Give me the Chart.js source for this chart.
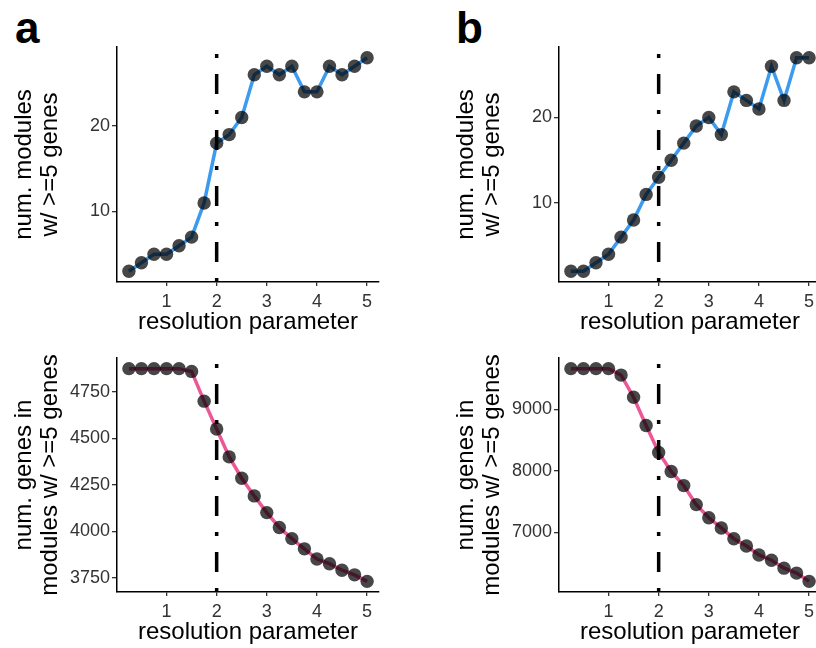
<!DOCTYPE html>
<html>
<head>
<meta charset="utf-8">
<script src="https://cdn.jsdelivr.net/npm/chart.js@4.4.1/dist/chart.umd.min.js"></script>
<style>
  html, body { margin: 0; padding: 0; background: #fff; }
  body { width: 816px; height: 648px; overflow: hidden; position: relative; }
  canvas { position: absolute; }
  .tag { position: absolute; font: bold 44px 'Liberation Sans', Arial, sans-serif; line-height: 44px; color: #000; }
</style>
</head>
<body>
<div class="tag" style="left:15px; top:6px;">a</div>
<div class="tag" style="left:456px; top:6px;">b</div>
<canvas id="aTop" width="400" height="338" style="left:0; top:0;"></canvas>
<canvas id="aBot" width="400" height="328" style="left:0; top:320px;"></canvas>
<canvas id="bTop" width="400" height="338" style="left:442px; top:0;"></canvas>
<canvas id="bBot" width="400" height="328" style="left:442px; top:320px;"></canvas>
<script>
// resolution parameter values (x)
var resolution = [0.25, 0.5, 0.75, 1, 1.25, 1.5, 1.75, 2, 2.25, 2.5, 2.75, 3, 3.25, 3.5, 3.75, 4, 4.25, 4.5, 4.75, 5];

// num. modules w/ >=5 genes
var modulesA = [3, 4, 5, 5, 6, 7, 11, 18, 19, 21, 26, 27, 26, 27, 24, 24, 27, 26, 27, 28];
var modulesB = [2, 2, 3, 4, 6, 8, 11, 13, 15, 17, 19, 20, 18, 23, 22, 21, 26, 22, 27, 27];

// num. genes in modules w/ >=5 genes
var genesA = [4875, 4875, 4875, 4875, 4875, 4860, 4700, 4550, 4400, 4285, 4190, 4100, 4020, 3960, 3905, 3850, 3825, 3790, 3765, 3730];
var genesB = [9665, 9665, 9665, 9665, 9560, 9200, 8740, 8300, 7990, 7760, 7450, 7235, 7070, 6895, 6775, 6630, 6545, 6415, 6335, 6200];

// tick labels
var xTicks = [1, 2, 3, 4, 5];
var modTicks = [10, 20];
var genesTicksA = [3750, 4000, 4250, 4500, 4750];
var genesTicksB = [7000, 8000, 9000];

var cutoff = 2;   // chosen resolution (dot-dash line)

var blue = '#3d9bef';
var pink = '#ec5896';

Chart.defaults.font.family = "'Liberation Sans', Arial, sans-serif";

// dot-dash vertical line at the chosen resolution
var vline = {
  id: 'vline',
  afterDatasetsDraw: function(chart) {
    var ctx = chart.ctx, area = chart.chartArea;
    var x = chart.scales.x.getPixelForValue(cutoff);
    ctx.save();
    ctx.strokeStyle = '#000';
    ctx.lineWidth = 3.5;
    ctx.setLineDash([4, 16, 20, 16]);
    ctx.beginPath();
    ctx.moveTo(x, area.bottom);
    ctx.lineTo(x, area.top);
    ctx.stroke();
    ctx.restore();
  }
};

function makePanel(id, ys, yTicks, color, title, padTop) {
  var lo = Math.min.apply(null, ys), hi = Math.max.apply(null, ys);
  var ypad = (hi - lo) * 0.05;
  var xlo = resolution[0], xhi = resolution[resolution.length - 1];
  var xpad = (xhi - xlo) * 0.05;

  return new Chart(document.getElementById(id), {
    type: 'scatter',
    data: {
      datasets: [{
        data: resolution.map(function(x, i) { return {x: x, y: ys[i]}; }),
        showLine: true,
        borderColor: color,
        borderWidth: 3.5,
        pointRadius: 6.7,
        pointBackgroundColor: 'rgba(0,0,0,0.72)',
        pointBorderWidth: 0,
        clip: false
      }]
    },
    options: {
      animation: false,
      responsive: false,
      devicePixelRatio: 1,
      layout: { padding: { top: padTop, right: 21, left: 0, bottom: 0 }, autoPadding: false },
      plugins: { legend: { display: false }, tooltip: { enabled: false } },
      scales: {
        x: {
          type: 'linear',
          min: xlo - xpad,
          max: xhi + xpad,
          afterBuildTicks: function(s) { s.ticks = xTicks.map(function(v) { return {value: v}; }); },
          afterFit: function(s) { s.height = 56; },
          grid: { drawOnChartArea: false, tickLength: 4, color: '#333', lineWidth: 1.3 },
          border: { color: '#000', width: 1.5 },
          ticks: { padding: 5, color: '#333', font: { size: 18 }, callback: function(v) { return String(v); } },
          title: { display: true, text: 'resolution parameter', color: '#000', font: { size: 24 }, padding: { top: 0, bottom: 1 } }
        },
        y: {
          min: lo - ypad,
          max: hi + ypad,
          afterBuildTicks: function(s) { s.ticks = yTicks.map(function(v) { return {value: v}; }); },
          afterFit: function(s) { s.width = 117; },
          grid: { drawOnChartArea: false, tickLength: 5, color: '#333', lineWidth: 1.3 },
          border: { color: '#000', width: 1.5 },
          ticks: { padding: 2, color: '#333', font: { size: 18 }, callback: function(v) { return String(v); } },
          title: { display: true, text: title, color: '#000', font: { size: 24, lineHeight: 1.1 }, padding: { top: 11, bottom: 0 } }
        }
      }
    },
    plugins: [vline]
  });
}

makePanel('aTop', modulesA, modTicks, blue, ['num. modules', 'w/ >=5 genes'], 47);
makePanel('bTop', modulesB, modTicks, blue, ['num. modules', 'w/ >=5 genes'], 47);
makePanel('aBot', genesA, genesTicksA, pink, ['num. genes in', 'modules w/ >=5 genes'], 38);
makePanel('bBot', genesB, genesTicksB, pink, ['num. genes in', 'modules w/ >=5 genes'], 38);
</script>
</body>
</html>
